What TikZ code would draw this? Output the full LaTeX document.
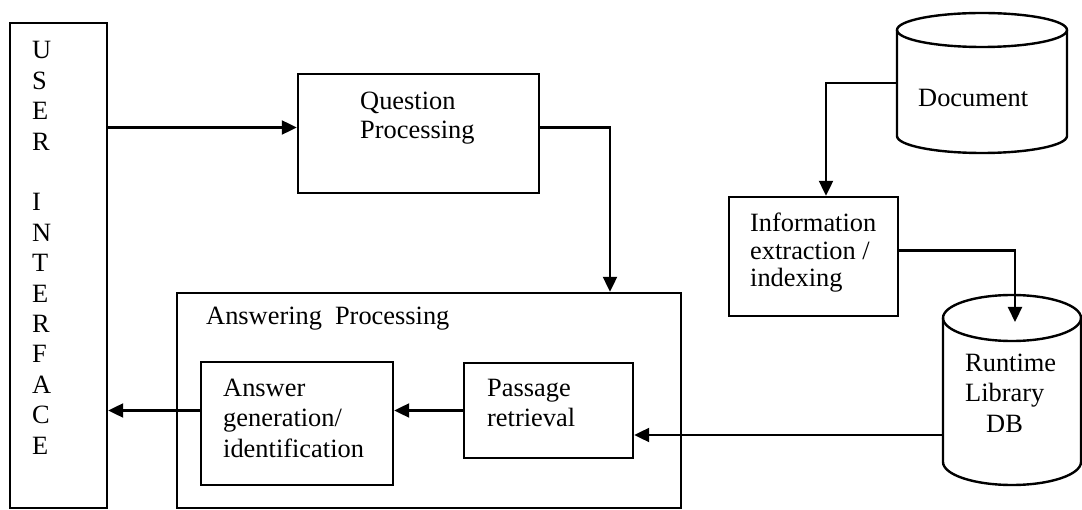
\documentclass[tikz,border=0pt]{standalone}
\usepackage{fontspec}
\setmainfont{Liberation Serif}
\usetikzlibrary{arrows.meta}
\begin{document}
\begin{tikzpicture}[x=1pt,y=-1pt,
  box/.style={draw, rectangle, line width=2.4pt, inner sep=0pt},
  shell/.style={rectangle, draw=none, inner sep=0pt, outer sep=0pt},
  lbl/.style={anchor=base west, inner sep=0pt, align=left},
  arr/.style={line width=2.2pt, -{Triangle[length=15pt,width=14pt]}},
  wire/.style={line width=2.4pt}]
\useasboundingbox (0,0) rectangle (1082,510);

% main blocks
\node[box, minimum width=97pt,  minimum height=485pt] (ui)   at (58.5,265.5) {};
\node[box, minimum width=241pt, minimum height=119pt] (qp)   at (418.5,133.5) {};
\node[box, minimum width=504pt, minimum height=215pt] (ap)   at (429,400.5) {};
\node[box, minimum width=192pt, minimum height=123pt] (ag)   at (297,423.5) {};
\node[box, minimum width=169pt, minimum height=95pt]  (pr)   at (548.5,410.5) {};
\node[box, minimum width=169pt, minimum height=119pt] (info) at (813.5,256.5) {};

% storage cylinders
\node[shell, minimum width=170pt, minimum height=106pt] (doc) at (982,83) {};
\draw[wire] (doc.north west) -- (doc.south west)
  arc[start angle=180, end angle=360, x radius=85pt, y radius=17pt] -- (doc.north east);
\draw[wire] (doc.north) ellipse[x radius=85pt, y radius=17pt];

\node[shell, minimum width=138pt, minimum height=144pt] (db) at (1012,390) {};
\draw[wire] (db.north west) -- (db.south west)
  arc[start angle=180, end angle=360, x radius=69pt, y radius=23pt] -- (db.north east);
\draw[wire] (db.north) ellipse[x radius=69pt, y radius=23pt];

% labels (multi-line labels sit on the baseline of their last line)
\node[lbl, font=\fontsize{26.4}{30.4}\selectfont] (uitext) at (32,454)
  {U\\S\\E\\R\\~\\I\\N\\T\\E\\R\\F\\A\\C\\E};
\node[lbl, font=\fontsize{26.4}{29}\selectfont] (qptext) at (360,139) {Question\\Processing};
\node[lbl, font=\fontsize{26.4}{30}\selectfont] (aptext) at (206,325) {Answering\hspace{13pt}Processing};
\node[lbl, font=\fontsize{26.4}{30.5}\selectfont] (agtext) at (223,457) {Answer\\generation/\\identification};
\node[lbl, font=\fontsize{26.4}{30}\selectfont] (prtext) at (487,427) {Passage\\retrieval};
\node[lbl, font=\fontsize{26.4}{27.5}\selectfont] (infotext) at (750,287) {Information\\extraction /\\indexing};
\node[lbl, font=\fontsize{26.4}{30}\selectfont] (doctext) at (918,107) {Document};
\node[lbl, font=\fontsize{26.4}{30.5}\selectfont] (dbtext) at (965,432) {Runtime\\Library\\\hspace*{21pt}DB};

% connectors
\coordinate (qpin) at ([yshift=6pt]qp.west);
\draw[arr] (qpin -| ui.east) -- (qpin);
\coordinate (apin) at ([xshift=181pt]ap.north);
\draw[arr] (qpin -| qp.east) -| (apin);
\draw[arr] (pr.west) -- (pr.west -| ag.east);
\draw[arr] (pr.west -| ag.west) -- (pr.west -| ui.east);
\coordinate (infoin) at ([xshift=12.5pt]info.north);
\draw[arr] (doc.west) -| (infoin);
\coordinate (infoout) at ([yshift=6pt]info.east);
\coordinate (dbin) at ([xshift=3pt,yshift=-4pt]db.north);
\draw[arr] (infoout) -| (dbin);
\coordinate (dbout) at ([yshift=-45pt]db.west);
\draw[arr] (dbout) -- (dbout -| pr.east);
\end{tikzpicture}
\end{document}
